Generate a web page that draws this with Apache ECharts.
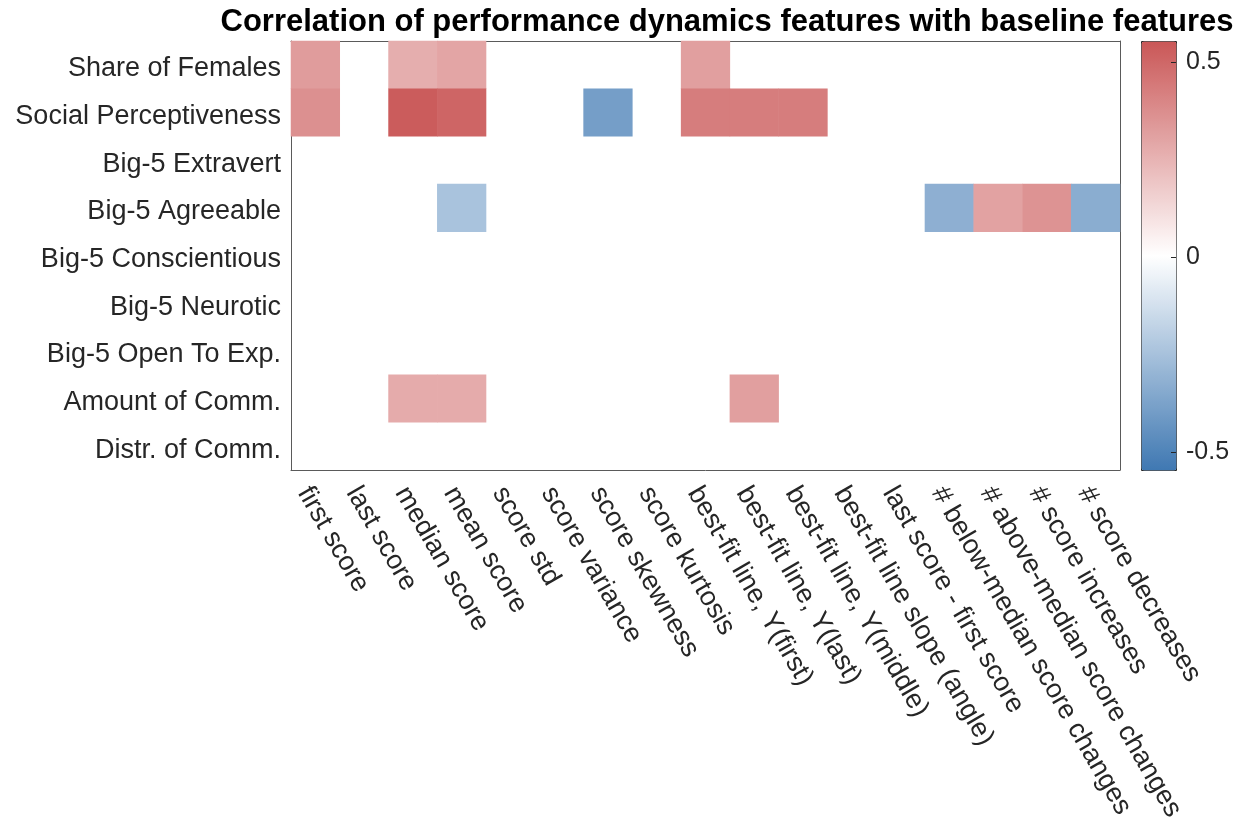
<!DOCTYPE html>
<html>
<head>
<meta charset="utf-8">
<script src="https://cdn.jsdelivr.net/npm/echarts@6/dist/echarts.min.js"></script>
<style>
  html, body { margin: 0; padding: 0; background: #fff; }
  #chart { width: 1245px; height: 820px; }
</style>
</head>
<body>
<div id="chart"></div>
<script>
// baseline features (rows, top to bottom)
var rowNames = ['Share of Females', 'Social Perceptiveness', 'Big-5 Extravert', 'Big-5 Agreeable',
    'Big-5 Conscientious', 'Big-5 Neurotic', 'Big-5 Open To Exp.', 'Amount of Comm.', 'Distr. of Comm.'];
// performance dynamics features (columns)
var colNames = ['first score', 'last score', 'median score', 'mean score', 'score std', 'score variance',
    'score skewness', 'score kurtosis', 'best-fit line, Y(first)', 'best-fit line, Y(last)',
    'best-fit line, Y(middle)', 'best-fit line slope (angle)', 'last score - first score',
    '# below-median score changes', '# above-median score changes', '# score increases', '# score decreases'];
// correlations, null = not shown
var corr = [
    [0.33, null, 0.27, 0.30, null, null, null, null, 0.32, null, null, null, null, null, null, null, null],
    [0.37, null, 0.54, 0.51, null, null, -0.39, null, 0.43, 0.43, 0.43, null, null, null, null, null, null],
    [null, null, null, null, null, null, null, null, null, null, null, null, null, null, null, null, null],
    [null, null, null, -0.24, null, null, null, null, null, null, null, null, null, -0.32, 0.31, 0.36, -0.33],
    [null, null, null, null, null, null, null, null, null, null, null, null, null, null, null, null, null],
    [null, null, null, null, null, null, null, null, null, null, null, null, null, null, null, null, null],
    [null, null, null, null, null, null, null, null, null, null, null, null, null, null, null, null, null],
    [null, null, 0.28, 0.28, null, null, null, null, null, 0.32, null, null, null, null, null, null, null],
    [null, null, null, null, null, null, null, null, null, null, null, null, null, null, null, null, null]
];
var cbMin = -0.545;
var cbMax = 0.555;
var cbTicks = [-0.5, 0, 0.5];
var cmap = ['#3F78B2', '#FFFFFF', '#CA5757'];

var heatData = [];
for (var r = 0; r < corr.length; r++) {
    for (var c = 0; c < corr[r].length; c++) {
        if (corr[r][c] !== null) heatData.push([c, r, corr[r][c]]);
    }
}

var myChart = echarts.init(document.getElementById('chart'));
var fontFam = '"Liberation Sans", Arial, Helvetica, sans-serif';
var boxLine = { show: true, lineStyle: { color: '#5a5a5a', width: 1 } };
var tickLine = { color: '#262626', width: 1 };

var option = {
    backgroundColor: '#fff',
    animation: false,
    title: {
        text: 'Correlation of performance dynamics features with baseline features',
        left: 722,
        top: 2,
        textAlign: 'center',
        textStyle: { color: '#000', fontSize: 31, fontWeight: 'bold', fontFamily: fontFam }
    },
    grid: [
        { left: 291, top: 41, width: 829, height: 429, outerBoundsMode: 'none', containLabel: false },
        { left: 1141, top: 41, width: 35, height: 429, outerBoundsMode: 'none', containLabel: false }
    ],
    xAxis: [{
        type: 'category',
        gridIndex: 0,
        position: 'bottom',
        data: colNames,
        axisLine: boxLine,
        axisTick: { inside: true, alignWithLabel: true, length: 6, lineStyle: tickLine },
        axisLabel: { rotate: -60, interval: 0, margin: 12, verticalAlign: 'top', fontSize: 27, color: '#262626', fontFamily: fontFam },
        splitLine: { show: false }
    }, {
        type: 'category',
        gridIndex: 0,
        position: 'top',
        data: colNames,
        axisLine: boxLine,
        axisTick: { inside: true, alignWithLabel: true, length: 6, lineStyle: tickLine },
        axisLabel: { show: false },
        splitLine: { show: false }
    }, {
        type: 'value',
        gridIndex: 1,
        show: false,
        min: 0,
        max: 1
    }],
    yAxis: [{
        type: 'category',
        gridIndex: 0,
        position: 'left',
        inverse: true,
        data: rowNames,
        axisLine: boxLine,
        axisTick: { inside: true, alignWithLabel: true, length: 6, lineStyle: tickLine },
        axisLabel: { interval: 0, margin: 10, verticalAlign: 'top', lineHeight: 8, fontSize: 27, color: '#262626', fontFamily: fontFam },
        splitLine: { show: false }
    }, {
        type: 'category',
        gridIndex: 0,
        position: 'right',
        inverse: true,
        data: rowNames,
        axisLine: boxLine,
        axisTick: { inside: true, alignWithLabel: true, length: 6, lineStyle: tickLine },
        axisLabel: { show: false },
        splitLine: { show: false }
    }, {
        type: 'value',
        gridIndex: 1,
        position: 'right',
        min: cbMin,
        max: cbMax,
        z: 10,
        axisLine: { show: false, onZero: false },
        axisTick: { show: true, inside: true, length: 5, customValues: cbTicks, lineStyle: tickLine },
        axisLabel: { show: true, customValues: cbTicks, margin: 10, fontSize: 25, color: '#262626', fontFamily: fontFam },
        splitLine: { show: false }
    }],
    visualMap: {
        type: 'continuous',
        seriesIndex: 0,
        min: cbMin,
        max: cbMax,
        calculable: false,
        hoverLink: false,
        orient: 'vertical',
        left: 1141,
        top: 41,
        itemWidth: 35,
        itemHeight: 429,
        padding: 0,
        z: 2,
        borderColor: '#262626',
        borderWidth: 1,
        inRange: { color: cmap }
    },
    series: [{
        type: 'heatmap',
        xAxisIndex: 0,
        yAxisIndex: 0,
        data: heatData,
        itemStyle: { borderWidth: 0 },
        emphasis: { disabled: true },
        silent: true
    }]
};
myChart.setOption(option);
</script>
</body>
</html>
